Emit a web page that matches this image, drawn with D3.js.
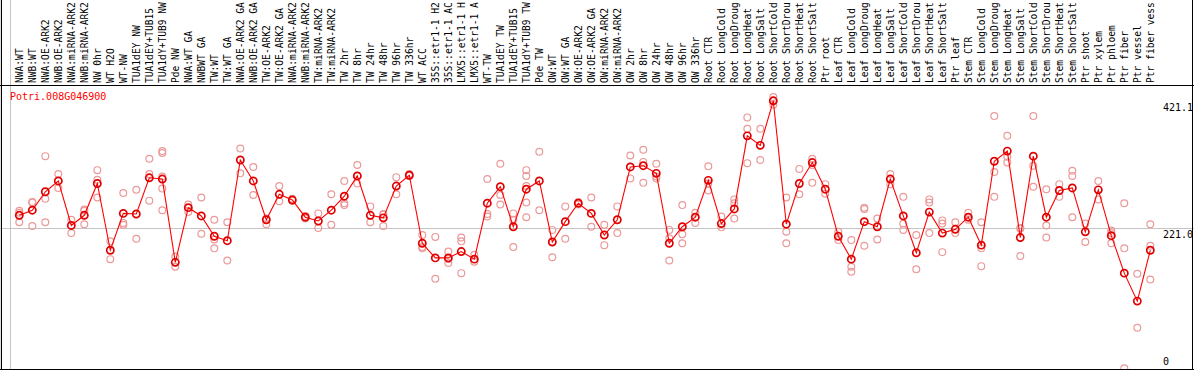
<!DOCTYPE html>
<html lang="en">
<head>
<meta charset="UTF-8">
<title>Potri.008G046900</title>
<script src="https://d3js.org/d3.v7.min.js"></script>
<style>
    body { margin: 0; background: #fff; }
    svg { display: block; }
    text { font-family: "DejaVu Sans Mono", "Liberation Mono", monospace; }
</style>
</head>
<body>
<div id="chart"></div>
<script>
    const width = 1194;
    const height = 370;

    const geneName = "Potri.008G046900";

    const samples = [
        "NWA:WT", "NWB:WT", "NWA:OE-ARK2", "NWB:OE-ARK2", "NWA:miRNA-ARK2", "NWB:miRNA-ARK2",
        "NW 0hr", "WT H2O", "WT-NW", "TUA1dEY NW", "TUA1dEY+TUB15 ", "TUA1dY+TUB9 NW", "Pde NW",
        "NWA:WT GA", "NWBWT GA", "TW:WT", "TW:WT GA", "NWA:OE-ARK2 GA", "NWB:OE-ARK2 GA",
        "TW:OE-ARK2", "TW:OE-ARK2 GA", "NWA:miRNA-ARK2", "NWB:miRNA-ARK2", "TW:miRNA-ARK2",
        "TW:miRNA-ARK2", "TW 2hr", "TW 8hr", "TW 24hr", "TW 48hr", "TW 96hr", "TW 336hr",
        "WT ACC", "35S::etr1-1 H2", "35S::etr1-1 AC", "LMX5::etr1-1 H", "LMX5::etr1-1 A",
        "WT-TW", "TUA1dEY TW", "TUA1dEY+TUB15 ", "TUA1dY+TUB9 TW", "Pde TW",
        "OW:WT", "OW:WT GA", "OW:OE-ARK2", "OW:OE-ARK2 GA", "OW:miRNA-ARK2", "OW:miRNA-ARK2",
        "OW 2hr", "OW 8hr", "OW 24hr", "OW 48hr", "OW 96hr", "OW 336hr",
        "Root CTR", "Root LongCold", "Root LongDroug", "Root LongHeat", "Root LongSalt",
        "Root ShortCold", "Root ShortDrou", "Root ShortHeat", "Root ShortSalt", "Ptr root",
        "Leaf CTR", "Leaf LongCold", "Leaf LongDroug", "Leaf LongHeat", "Leaf LongSalt",
        "Leaf ShortCold", "Leaf ShortDrou", "Leaf ShortHeat", "Leaf ShortSalt", "Ptr leaf",
        "Stem CTR", "Stem LongCold", "Stem LongDroug", "Stem LongHeat", "Stem LongSalt",
        "Stem ShortCold", "Stem ShortDrou", "Stem ShortHeat", "Stem ShortSalt", "Ptr shoot",
        "Ptr xylem", "Ptr phloem", "Ptr fiber", "Ptr vessel", "Ptr fiber vess"
    ];

    // number of samples in each block between the grey separators
    const groupSizes = [13, 28, 12, 10, 10, 11, 1, 1, 1, 1];

    const means = [
        241, 249, 278, 295, 225, 241, 291, 186, 244, 243,
        300, 298, 167, 253, 240, 208, 201, 328, 295, 234,
        274, 265, 238, 232, 249, 271, 303, 241, 237, 287,
        304, 197, 174, 174, 184, 172, 260, 286, 223, 282,
        295, 199, 231, 260, 244, 210, 234, 317, 319, 307,
        197, 223, 238, 296, 228, 251, 366, 351, 421.1, 227,
        291, 324, 282, 208, 172, 231, 223, 298, 240, 182,
        246, 213, 219, 238, 194, 326, 342, 206, 334, 238,
        280, 284, 215, 281, 209, 150, 106, 186
    ];

    const replicates = [
        [248, 245, 230], [262, 261, 224], [334, 267, 230], [306, 284], [234, 213],
        [250, 248, 227], [312, 297, 269], [200, 172], [276, 229, 226], [281, 204],
        [330, 306, 264], [342, 339, 302, 283, 249], [176, 160], [258, 246], [269, 212],
        [234, 203, 189], [230, 170], [346, 307], [317, 273], [236, 227],
        [287, 263], [267, 264], [240, 236], [244, 221], [274, 226],
        [295, 260, 257], [320, 303, 291], [255, 230], [243, 242, 224], [301, 274],
        [306, 303], [210, 191, 189], [207, 141], [184, 172, 166], [206, 200, 150],
        [179, 168], [298, 243, 239], [322, 273, 258], [244, 234, 191], [312, 303, 287, 261, 238],
        [341, 249], [218, 199, 175], [255, 204], [262, 258], [269, 223],
        [226, 194], [255, 213], [335, 299], [344, 325, 292], [322, 302, 299],
        [218, 205, 170], [257, 211, 197], [245, 229], [318, 291, 280], [239, 222],
        [266, 260, 236], [395, 377, 323], [377, 328], [427, 421, 415], [269, 215, 197],
        [314, 274], [330, 320, 292], [290, 275], [215, 202], [202, 160, 152],
        [253, 251, 193], [236, 203], [306, 298, 290], [270, 228, 218], [210, 156],
        [266, 261, 213], [233, 228, 183], [230, 213], [245, 234], [230, 189, 161],
        [397, 309, 270], [366, 333, 324], [221, 220, 177], [397, 319, 286], [282, 225, 206],
        [290, 280, 270], [311, 303, 238], [228, 199], [295, 266], [217, 213, 197],
        [260, 189, 0.3], [149, 64], [227, 193, 140]
    ];

    const yTicks = [421.1, 221.0, 0];

    const labelBase = 83;   // bottom of the rotated sample names
    const plotTop = 85;
    const plotBottom = 369;

    const x = d3.scaleBand()
        .domain(d3.range(samples.length))
        .range([11, 11 + 13 * samples.length]);
    const cx = i => x(i) + 8.3;

    const y = d3.scaleLinear()
        .domain([0, 421.1])
        .range([368.5, 100.8]);

    const svg = d3.select("#chart")
        .append("svg")
        .attr("width", width)
        .attr("height", height);

    svg.append("rect")
        .attr("width", width)
        .attr("height", height)
        .attr("fill", "#fff");

    // grey separators between sample blocks
    const bounds = [0].concat(d3.cumsum(groupSizes));
    const sepX = (d, i) => (i === 0 ? x(0) - 1 : x(d - 1) + x.bandwidth()) + 0.5;
    svg.selectAll(".sep")
        .data(bounds)
        .enter().append("line")
        .attr("class", "sep")
        .attr("x1", sepX)
        .attr("x2", sepX)
        .attr("y1", 0)
        .attr("y2", height)
        .attr("stroke", "#c4c4c4")
        .attr("stroke-width", 1);

    // grey line at the middle tick
    svg.append("line")
        .attr("x1", 0).attr("x2", width)
        .attr("y1", Math.round(y(221.0)) + 0.5)
        .attr("y2", Math.round(y(221.0)) + 0.5)
        .attr("stroke", "#c4c4c4");

    // sample names
    svg.selectAll(".sample")
        .data(samples)
        .enter().append("text")
        .attr("class", "sample")
        .attr("transform", (d, i) => `translate(${cx(i)},${labelBase}) rotate(-90)`)
        .attr("dy", "0.36em")
        .attr("font-size", "9.6px")
        .attr("fill", "#000")
        .style("white-space", "pre")
        .text(d => d);

    // borders
    svg.append("line")
        .attr("x1", 0).attr("x2", width)
        .attr("y1", plotTop + 0.5).attr("y2", plotTop + 0.5)
        .attr("stroke", "#000");
    svg.append("line")
        .attr("x1", 0).attr("x2", width)
        .attr("y1", plotBottom + 0.5).attr("y2", plotBottom + 0.5)
        .attr("stroke", "#000");
    svg.append("line")
        .attr("x1", 1.5).attr("x2", 1.5)
        .attr("y1", 0).attr("y2", height)
        .attr("stroke", "#000");
    svg.append("line")
        .attr("x1", 1192.5).attr("x2", 1192.5)
        .attr("y1", 0).attr("y2", height)
        .attr("stroke", "#000");

    // y tick labels on the right, clipped by the border
    svg.append("clipPath").attr("id", "tickclip")
        .append("rect").attr("x", 0).attr("y", 0).attr("width", 1192).attr("height", height);
    svg.append("g")
        .attr("clip-path", "url(#tickclip)")
        .selectAll("text")
        .data(yTicks)
        .enter().append("text")
        .attr("x", 1163)
        .attr("y", d => d === 0 ? 365 : y(d) + 10)
        .attr("font-size", "10px")
        .attr("fill", "#000")
        .text(d => d === 0 ? "0" : d.toFixed(1));

    // gene name
    svg.append("text")
        .attr("x", 10)
        .attr("y", 100)
        .attr("font-size", "10px")
        .attr("fill", "#ff0000")
        .text(geneName);

    // replicate values
    const repPoints = [];
    replicates.forEach((vals, i) => vals.forEach(v => repPoints.push({ i, v })));

    svg.append("clipPath").attr("id", "plotclip")
        .append("rect").attr("x", 2).attr("y", plotTop + 1).attr("width", 1190).attr("height", plotBottom - plotTop - 1);
    const plot = svg.append("g")
        .attr("clip-path", "url(#plotclip)");

    plot.selectAll(".rep")
        .data(repPoints)
        .enter().append("circle")
        .attr("class", "rep")
        .attr("cx", d => cx(d.i))
        .attr("cy", d => y(d.v))
        .attr("r", 3.4)
        .attr("fill", "none")
        .attr("stroke", "#eb9a9a")
        .attr("stroke-width", 1.2);

    // mean line
    const line = d3.line()
        .x((d, i) => cx(i))
        .y(d => y(d));

    plot.append("path")
        .datum(means)
        .attr("d", line)
        .attr("fill", "none")
        .attr("stroke", "#ff0000")
        .attr("stroke-width", 1.1);

    plot.selectAll(".mean")
        .data(means)
        .enter().append("circle")
        .attr("class", "mean")
        .attr("cx", (d, i) => cx(i))
        .attr("cy", d => y(d))
        .attr("r", 3.6)
        .attr("fill", "none")
        .attr("stroke", "#e00000")
        .attr("stroke-width", 1.7);
</script>
</body>
</html>
